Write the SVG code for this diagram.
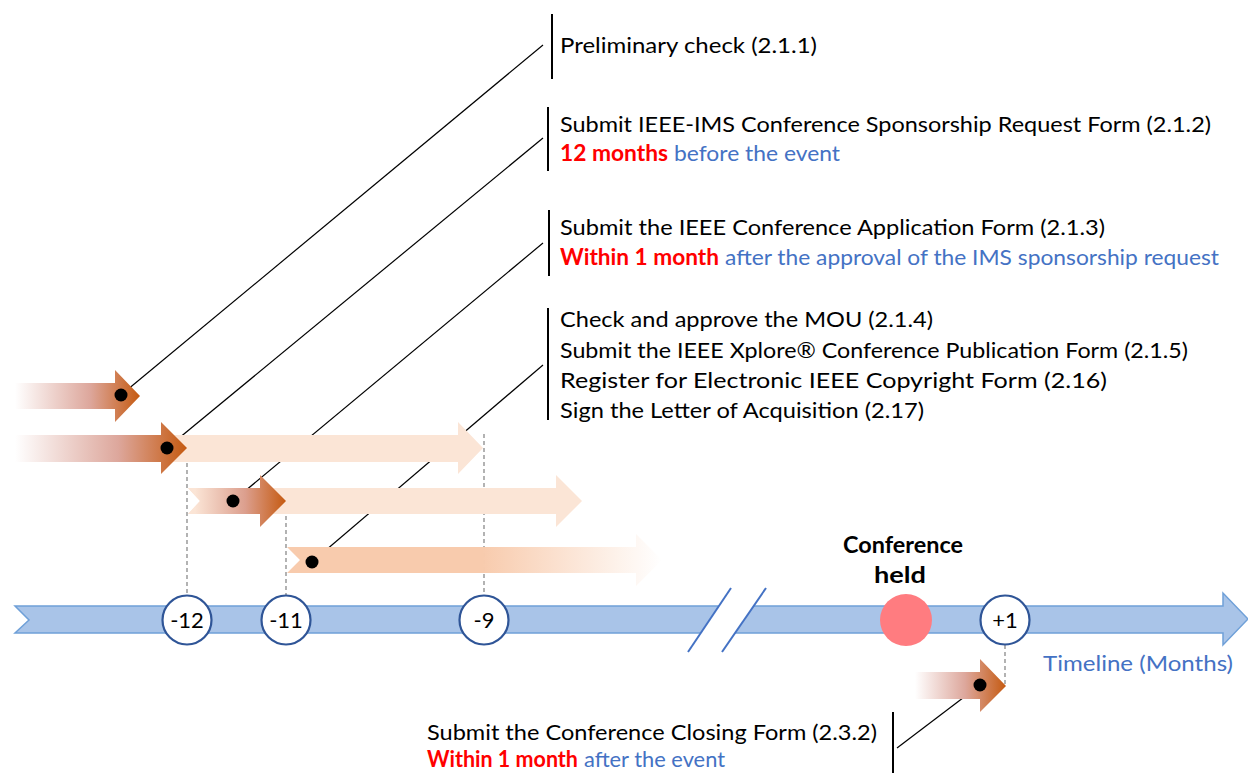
<svg xmlns="http://www.w3.org/2000/svg" width="1248" height="773" viewBox="0 0 1248 773">
<style>
text{font-family:Lato,"Open Sans","Liberation Sans",sans-serif;font-size:22px;fill:#000}
.b{font-weight:bold}
.red{fill:#FF0000;font-weight:bold}
.blue{fill:#4472C4}
.tick{fill:#fff;stroke:#2F5597;stroke-width:2.2}
.num{text-anchor:middle;font-size:22px}
.lead{stroke:#000;stroke-width:1.2;fill:none}
.brk{stroke:#000;stroke-width:2;fill:none}
.dash{stroke:#808080;stroke-width:1.2;stroke-dasharray:4 3;fill:none}
.dot{fill:#000}
</style>
<defs>
<linearGradient id="gDark1" gradientUnits="userSpaceOnUse" x1="15" y1="0" x2="140" y2="0">
<stop offset="0" stop-color="#fff"/><stop offset="0.6" stop-color="#DDA79C"/><stop offset="1" stop-color="#C55A11"/>
</linearGradient>
<linearGradient id="gDark2" gradientUnits="userSpaceOnUse" x1="15" y1="0" x2="187" y2="0">
<stop offset="0" stop-color="#fff"/><stop offset="0.6" stop-color="#DDA79C"/><stop offset="1" stop-color="#C55A11"/>
</linearGradient>
<linearGradient id="gDark3" gradientUnits="userSpaceOnUse" x1="195" y1="0" x2="286" y2="0">
<stop offset="0" stop-color="#FBE5D6"/><stop offset="0.55" stop-color="#DC9F8E"/><stop offset="1" stop-color="#C55A11"/>
</linearGradient>
<linearGradient id="gFade4" gradientUnits="userSpaceOnUse" x1="287" y1="0" x2="662" y2="0">
<stop offset="0" stop-color="#F8CBAD"/><stop offset="0.52" stop-color="#F8CBAD"/><stop offset="1" stop-color="#F8CBAD" stop-opacity="0"/>
</linearGradient>
<linearGradient id="gDark5" gradientUnits="userSpaceOnUse" x1="915" y1="0" x2="1006" y2="0">
<stop offset="0" stop-color="#fff"/><stop offset="0.55" stop-color="#DDA79C"/><stop offset="1" stop-color="#C55A11"/>
</linearGradient>
</defs>

<g id="timeline">
<polygon points="15,606 1223,606 1223,593 1248,619 1223,645 1223,633 15,633 29,620" fill="#A9C4E8" stroke="#6FA0D8" stroke-width="1.5"/>
<polygon points="720,604 755,604 734,635 699,635" fill="#fff"/>
<line x1="731" y1="588" x2="688" y2="652" stroke="#4472C4" stroke-width="2"/>
<line x1="766" y1="588" x2="722" y2="652" stroke="#4472C4" stroke-width="2"/>
<text class="blue" x="1043" y="671" textLength="190" lengthAdjust="spacingAndGlyphs">Timeline (Months)</text>
</g>

<g id="connectors">
<line class="dash" x1="187" y1="456" x2="187" y2="596"/>
<line class="dash" x1="286" y1="502" x2="286" y2="596"/>
<line class="dash" x1="484" y1="434" x2="484" y2="596"/>
<line class="dash" x1="1005" y1="645" x2="1005" y2="686"/>
<line class="lead" x1="121" y1="395" x2="543" y2="45"/>
<line class="lead" x1="167" y1="448" x2="543" y2="138"/>
<line class="lead" x1="233" y1="501" x2="543" y2="243"/>
<line class="lead" x1="312" y1="562" x2="543" y2="365"/>
<line class="lead" x1="980" y1="685" x2="897" y2="748"/>
</g>

<g id="arrows">
<polygon points="170,435 458,435 458,422 483,448 458,474 458,462 170,462" fill="#FBE5D6"/>
<polygon points="188,488 556,488 556,475 582,501 556,527 556,514 188,514 200,501" fill="#FBE5D6"/>
<polygon points="0,383 115,383 115,370 140,396 115,422 115,409 0,409" fill="url(#gDark1)"/>
<polygon points="0,435 161,435 161,422 187,448 161,474 161,462 0,462" fill="url(#gDark2)"/>
<polygon points="188,488 260,488 260,475 286,501 260,527 260,514 188,514 200,501" fill="url(#gDark3)"/>
<polygon points="287,547 636,547 636,534 662,560 636,586 636,573 287,573 300,560" fill="url(#gFade4)"/>
<polygon points="915,672 980,672 980,659 1006,686 980,712 980,699 915,699" fill="url(#gDark5)"/>
<circle class="dot" cx="121" cy="395" r="6.5"/>
<circle class="dot" cx="167" cy="448" r="6.5"/>
<circle class="dot" cx="233" cy="501" r="6.5"/>
<circle class="dot" cx="312" cy="562" r="6.5"/>
<circle class="dot" cx="980" cy="685" r="6.5"/>
</g>

<g id="tick-m12"><circle class="tick" cx="187" cy="620" r="24.5"/><text class="num" x="187" y="628">-12</text></g>
<g id="tick-m11"><circle class="tick" cx="286" cy="620" r="24.5"/><text class="num" x="286" y="628">-11</text></g>
<g id="tick-m9"><circle class="tick" cx="484" cy="620" r="24.5"/><text class="num" x="484" y="628">-9</text></g>
<g id="tick-p1"><circle class="tick" cx="1005" cy="620" r="24.5"/><text class="num" x="1005" y="628">+1</text></g>

<g id="conference-held">
<circle cx="906" cy="620" r="26" fill="#FF7C80"/>
<text class="b" x="843" y="553" textLength="120" lengthAdjust="spacingAndGlyphs">Conference</text>
<text class="b" x="874" y="583" textLength="52" lengthAdjust="spacingAndGlyphs">held</text>
</g>

<g id="label-1">
<line class="brk" x1="552" y1="14" x2="552" y2="79"/>
<text x="560" y="53" textLength="257" lengthAdjust="spacingAndGlyphs">Preliminary check (2.1.1)</text>
</g>

<g id="label-2">
<line class="brk" x1="548" y1="107" x2="548" y2="171"/>
<text x="560" y="132" textLength="651" lengthAdjust="spacingAndGlyphs">Submit IEEE-IMS Conference Sponsorship Request Form (2.1.2)</text>
<text class="red" x="560" y="161" textLength="108" lengthAdjust="spacingAndGlyphs">12 months</text>
<text class="blue" x="674" y="161" textLength="166" lengthAdjust="spacingAndGlyphs">before the event</text>
</g>

<g id="label-3">
<line class="brk" x1="549" y1="210" x2="549" y2="276"/>
<text x="560" y="235" textLength="545" lengthAdjust="spacingAndGlyphs">Submit the IEEE Conference Application Form (2.1.3)</text>
<text class="red" x="560" y="265" textLength="159" lengthAdjust="spacingAndGlyphs">Within 1 month</text>
<text class="blue" x="725" y="265" textLength="494" lengthAdjust="spacingAndGlyphs">after the approval of the IMS sponsorship request</text>
</g>

<g id="label-4">
<line class="brk" x1="548" y1="308" x2="548" y2="420"/>
<text x="560" y="327" textLength="373" lengthAdjust="spacingAndGlyphs">Check and approve the MOU (2.1.4)</text>
<text x="560" y="358" textLength="628" lengthAdjust="spacingAndGlyphs">Submit the IEEE Xplore® Conference Publication Form (2.1.5)</text>
<text x="560" y="388" textLength="547" lengthAdjust="spacingAndGlyphs">Register for Electronic IEEE Copyright Form (2.16)</text>
<text x="560" y="418" textLength="364" lengthAdjust="spacingAndGlyphs">Sign the Letter of Acquisition (2.17)</text>
</g>

<g id="label-5">
<line class="brk" x1="893" y1="712" x2="893" y2="773"/>
<text x="427" y="740" textLength="450" lengthAdjust="spacingAndGlyphs">Submit the Conference Closing Form (2.3.2)</text>
<text class="red" x="427" y="767" textLength="151" lengthAdjust="spacingAndGlyphs">Within 1 month</text>
<text class="blue" x="584" y="767" textLength="141" lengthAdjust="spacingAndGlyphs">after the event</text>
</g>
</svg>
